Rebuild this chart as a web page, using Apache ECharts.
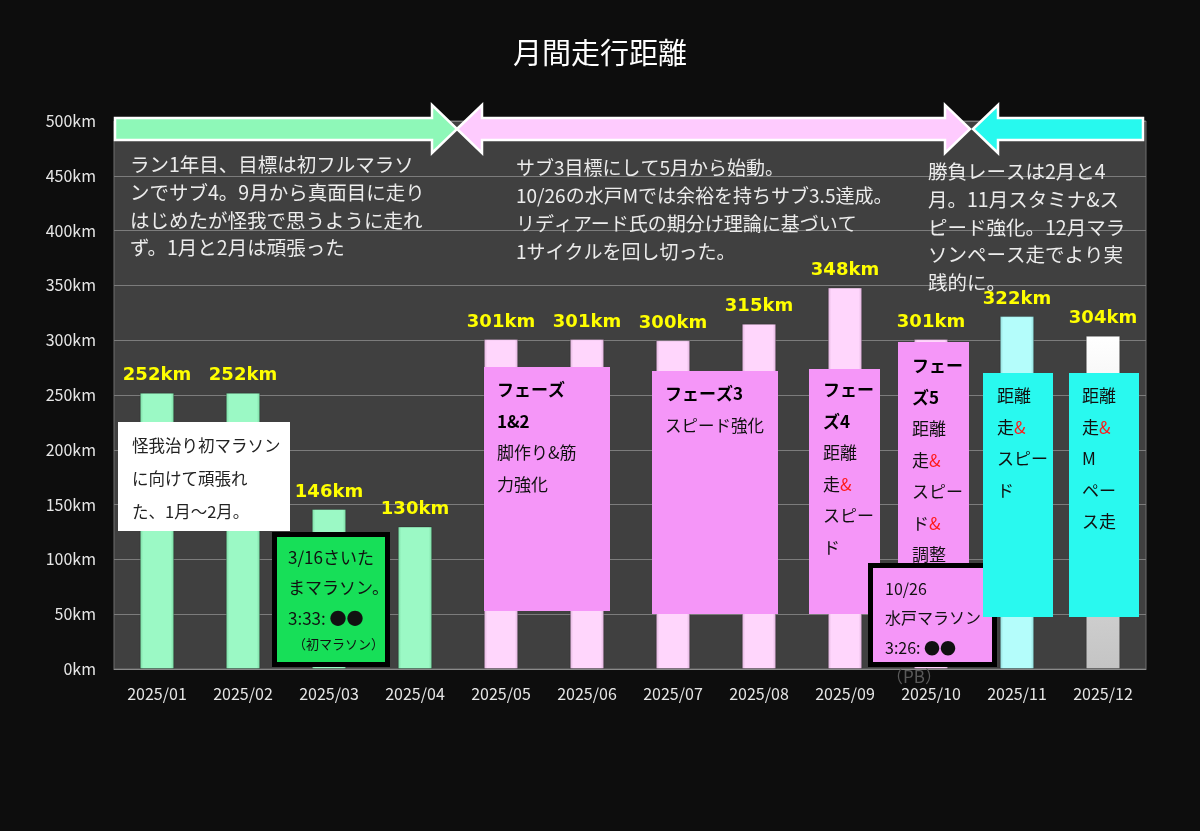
<!DOCTYPE html>
<html>
<head>
<meta charset="utf-8">
<title>月間走行距離</title>
<script src="https://cdn.jsdelivr.net/npm/echarts@6/dist/echarts.min.js"></script>
<style>
html, body { margin: 0; padding: 0; background: #0d0d0d; }
#chart { width: 1200px; height: 831px; }
</style>
</head>
<body>
<div id="chart"></div>
<script>
// データ
var months = ['2025/01', '2025/02', '2025/03', '2025/04', '2025/05', '2025/06',
              '2025/07', '2025/08', '2025/09', '2025/10', '2025/11', '2025/12'];
var distances = [252, 252, 146, 130, 301, 301, 300, 315, 348, 301, 322, 304];
var phases = ['y1', 'y1', 'y1', 'y1', 'y2', 'y2', 'y2', 'y2', 'y2', 'y2', 'y3', 'y4'];

var jp = '"Noto Sans CJK JP", "Noto Sans", sans-serif';

var phaseColor = {
    y1: ['#79d8a2', '#9bf9c5'],
    y2: ['#dcb0d8', '#ffd6fc'],
    y3: ['#8fd9d8', '#b4fdfb']
};

function barColor(p) {
    var i = p.dataIndex
    if (phases[i] == 'y4') {
        return new echarts.graphic.LinearGradient(0, 0, 0, 1, [
            { offset: 0, color: '#ffffff' },
            { offset: 1, color: '#c4c4c4' }
        ])
    }
    var c = phaseColor[phases[i]]
    return new echarts.graphic.LinearGradient(0, 0, 1, 0, [
        { offset: 0, color: c[0] },
        { offset: 0.1, color: c[1] },
        { offset: 0.9, color: c[1] },
        { offset: 1, color: c[0] }
    ])
}

// 吹き出しの文字
var rich = {
    b: { fontWeight: 'bold', fontSize: 17, fontFamily: jp, fill: '#000', lineHeight: 31.5 },
    r: { fontSize: 17, fontFamily: jp, fill: '#ff1a1a', lineHeight: 31.5 }
};

function box(x, y, w, h, fill, border) {
    return {
        type: 'rect',
        shape: { x: x, y: y, width: w, height: h },
        style: { fill: fill, stroke: border ? '#000' : null, lineWidth: border ? 5 : 0 },
        z: 10
    }
}

function txt(x, y, text, opt) {
    opt = opt || {}
    return {
        type: 'text',
        x: x,
        y: y,
        style: {
            text: text,
            fontSize: opt.size || 17,
            fontFamily: jp,
            fill: opt.color || '#111',
            lineHeight: opt.lh || 31.5,
            rich: rich,
            verticalAlign: 'top'
        },
        z: 11
    }
}

function arrow(points, color) {
    return {
        type: 'polygon',
        shape: { points: points },
        style: { fill: color, stroke: '#fff', lineWidth: 2.5 },
        z: 10
    }
}

var chart = echarts.init(document.getElementById('chart'));

var option = {
    backgroundColor: '#0d0d0d',
    animation: false,
    title: {
        text: '月間走行距離',
        left: 'center',
        top: 33,
        textStyle: { color: '#fff', fontSize: 29, fontWeight: 'normal', fontFamily: jp }
    },
    grid: {
        left: 114, right: 54, top: 121, bottom: 162,
        show: true,
        backgroundColor: '#404040',
        borderColor: '#6e6e6e',
        borderWidth: 1
    },
    xAxis: {
        type: 'category',
        data: months,
        axisLine: { lineStyle: { color: '#8a8a8a' } },
        axisTick: { show: false },
        axisLabel: { color: '#e6e6e6', fontSize: 16, margin: 17, fontFamily: jp }
    },
    yAxis: {
        type: 'value',
        min: 0,
        max: 500,
        interval: 50,
        axisLine: { show: false },
        axisTick: { show: false },
        splitLine: { lineStyle: { color: '#7c7c7c', width: 1 } },
        axisLabel: { color: '#e6e6e6', fontSize: 16, margin: 18, formatter: '{value}km', fontFamily: jp }
    },
    series: [{
        type: 'bar',
        data: distances,
        barWidth: '40%',
        itemStyle: {
            color: barColor,
            borderColor: 'rgba(0,0,0,0.25)',
            borderWidth: 1
        },
        label: {
            show: true,
            position: 'top',
            distance: 8,
            formatter: '{c}km',
            color: '#ffff00',
            fontSize: 18,
            fontWeight: 'bold',
            fontFamily: '"DejaVu Sans", sans-serif'
        }
    }],
    graphic: [
        // 上の矢印
        arrow([[115, 118], [432, 118], [432, 105], [457, 129], [432, 153], [432, 140], [115, 140]], '#8ef8b8'),
        arrow([[457, 129], [482, 105], [482, 118], [945, 118], [945, 105], [970, 129], [945, 153], [945, 140], [482, 140], [482, 153]], '#fecbfe'),
        arrow([[973, 129], [998, 105], [998, 118], [1143, 118], [1143, 140], [998, 140], [998, 153]], '#27f9ee'),

        // 期ごとの説明
        txt(130, 151, 'ラン1年目、目標は初フルマラソ\nンでサブ4。9月から真面目に走り\nはじめたが怪我で思うように走れ\nず。1月と2月は頑張った', { size: 19.5, color: '#ececec', lh: 27.7 }),
        txt(516, 154, 'サブ3目標にして5月から始動。\n10/26の水戸Mでは余裕を持ちサブ3.5達成。\nリディアード氏の期分け理論に基づいて\n1サイクルを回し切った。', { size: 19, color: '#ececec', lh: 28 }),
        txt(928, 158, '勝負レースは2月と4\n月。11月スタミナ&ス\nピード強化。12月マラ\nソンペース走でより実\n践的に。', { size: 19.5, color: '#ececec', lh: 27.7 }),

        // 1月～2月
        box(118, 422, 172, 109, '#ffffff', false),
        txt(132, 429, '怪我治り初マラソン\nに向けて頑張れ\nた、1月～2月。', { size: 16.5, lh: 33, color: '#222' }),

        // さいたまマラソン
        box(274.5, 534.5, 113, 130, '#17df58', true),
        txt(288, 542, '3/16さいた\nまマラソン。\n3:33: ●●', { lh: 30.5 }),
        txt(293, 636, '（初マラソン）', { size: 13, lh: 16 }),

        // フェーズ1&2
        box(484, 367, 126, 244, '#f596f8', false),
        txt(497, 374, '{b|フェーズ}\n{b|1&2}\n脚作り&筋\n力強化'),

        // フェーズ3
        box(652, 371, 126, 243, '#f596f8', false),
        txt(665, 378, '{b|フェーズ3}\nスピード強化', { size: 16.5 }),

        // フェーズ4
        box(809, 369, 71, 245, '#f596f8', false),
        txt(823, 374, '{b|フェー}\n{b|ズ4}\n距離\n走{r|&}\nスピー\nド'),

        // フェーズ5
        box(898, 342, 71, 272, '#f596f8', false),
        txt(912, 350, '{b|フェー}\n{b|ズ5}\n距離\n走{r|&}\nスピー\nド{r|&}\n調整'),

        // 水戸マラソン
        txt(886, 668, '（PB）', { color: '#5a5a5a', lh: 18 }),
        box(870.5, 565.5, 124, 99, '#f596f8', true),
        txt(885, 574, '10/26\n水戸マラソン\n3:26: ●●', { size: 16, lh: 29.5 }),

        // 11月・12月
        box(983, 373, 70, 244, '#29f9ef', false),
        txt(997, 380, '距離\n走{r|&}\nスピー\nド'),
        box(1069, 373, 70, 244, '#29f9ef', false),
        txt(1082, 380, '距離\n走{r|&}\nM\nペー\nス走')
    ]
};

chart.setOption(option);
</script>
</body>
</html>
